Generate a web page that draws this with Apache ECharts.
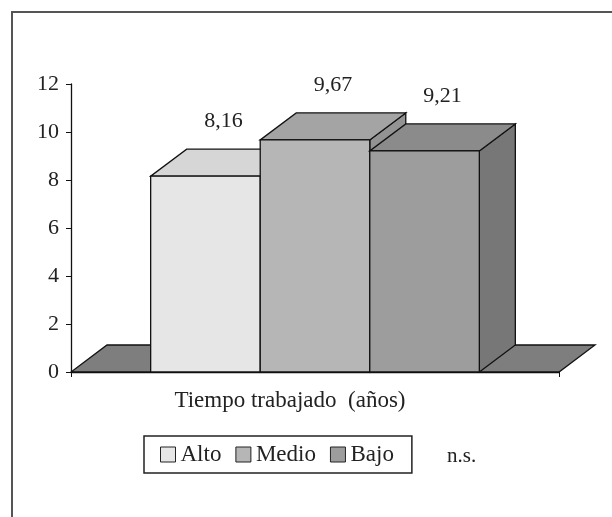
<!DOCTYPE html>
<html>
<head>
<meta charset="utf-8">
<script src="https://cdn.jsdelivr.net/npm/echarts@6/dist/echarts.min.js"></script>
<style>
html, body { margin: 0; padding: 0; background: #fff; }
#main { width: 612px; height: 517px; }
</style>
</head>
<body>
<div id="main"></div>
<script>
// datos
var categorias = ['Tiempo trabajado  (años)'];
var niveles = ['Alto', 'Medio', 'Bajo'];
var alto = [8.16];
var medio = [9.67];
var bajo = [9.21];
var ticksY = [0, 2, 4, 6, 8, 10, 12];

// frente, techo, lado
var caras = [
    ['#e6e6e6', '#d6d6d6', '#c4c4c4'],
    ['#b6b6b6', '#a4a4a4', '#939393'],
    ['#9d9d9d', '#8b8b8b', '#777777']
];
var PX = 36, PY = 27;   // profundidad 3D
var fuente = '"Liberation Serif", "DejaVu Serif", serif';

function coma(v) {
    return v.toFixed(2).replace('.', ',');
}

function caja(idx) {
    return function (params, api) {
        var base = api.coord([api.value(0), 0]);
        var cima = api.coord([api.value(0), api.value(1)]);
        var banda = api.size([1, 0])[0];
        var ancho = banda * 0.2245;
        var x0 = base[0] + (idx - 1.5) * ancho;
        var x1 = x0 + ancho;
        var yb = base[1], yt = cima[1];
        var c = caras[idx];
        var borde = { stroke: '#111', lineWidth: 1.3 };
        return {
            type: 'group',
            children: [
                { type: 'polygon', shape: { points: [[x1, yb], [x1 + PX, yb - PY], [x1 + PX, yt - PY], [x1, yt]] },
                  style: Object.assign({ fill: c[2] }, borde) },
                { type: 'polygon', shape: { points: [[x0, yt], [x1, yt], [x1 + PX, yt - PY], [x0 + PX, yt - PY]] },
                  style: Object.assign({ fill: c[1] }, borde) },
                { type: 'rect', shape: { x: x0, y: yt, width: ancho, height: yb - yt },
                  style: Object.assign({ fill: c[0] }, borde) },
                { type: 'text', style: { text: coma(api.value(1)), x: (x0 + x1) / 2 + PX / 2, y: yt - PY - 28,
                  align: 'center', verticalAlign: 'middle', font: '22px ' + fuente, fill: '#222' } }
            ]
        };
    };
}

function suelo(params, api) {
    var cs = params.coordSys;
    var y0 = api.coord([0, 0])[1];
    var xa = cs.x, xb = cs.x + cs.width;
    return {
        type: 'polygon',
        shape: { points: [[xa, y0], [xb, y0], [xb + PX, y0 - PY], [xa + PX, y0 - PY]] },
        style: { fill: '#7e7e7e', stroke: '#111', lineWidth: 1.3 }
    };
}

var valores = [alto, medio, bajo];
var series = [{
    type: 'custom',
    name: 'suelo',
    renderItem: suelo,
    data: [[0, 0]],
    silent: true,
    z: 1
}];
niveles.forEach(function (n, i) {
    series.push({
        type: 'custom',
        name: n,
        renderItem: caja(i),
        itemStyle: { color: caras[i][0] },
        data: valores[i].map(function (v, j) { return [j, v]; }),
        encode: { x: 0, y: 1 },
        z: 2 + i
    });
});

var myChart = echarts.init(document.getElementById('main'));
var option = {
    animation: false,
    backgroundColor: '#fff',
    grid: { left: 71, right: 53, top: 84, bottom: 145 },
    xAxis: {
        type: 'category',
        data: categorias,
        axisLine: { lineStyle: { color: '#111', width: 1.3 } },
        axisTick: { show: true, length: 5, lineStyle: { color: '#111' } },
        axisLabel: { fontFamily: fuente, fontSize: 23, color: '#222', margin: 17, padding: [0, 50, 0, 0] },
        splitLine: { show: false }
    },
    yAxis: {
        type: 'value',
        min: ticksY[0],
        max: ticksY[ticksY.length - 1],
        interval: 2,
        axisLine: { show: true, lineStyle: { color: '#111', width: 1.3 } },
        axisTick: { show: true, length: 5, lineStyle: { color: '#111' } },
        axisLabel: { fontFamily: fuente, fontSize: 22, color: '#222', margin: 12 },
        splitLine: { show: false }
    },
    legend: {
        data: niveles,
        left: 144,
        top: 436,
        padding: [7, 18, 7, 16],
        itemGap: 14,
        itemWidth: 15,
        itemHeight: 15,
        icon: 'rect',
        borderColor: '#222',
        borderWidth: 1.5,
        itemStyle: { borderColor: '#222', borderWidth: 1 },
        textStyle: { fontFamily: fuente, fontSize: 23, color: '#222' }
    },
    graphic: [
        { type: 'rect', shape: { x: 12, y: 12, width: 640, height: 560 },
          style: { fill: 'none', stroke: '#555', lineWidth: 2 }, z: 100 },
        { type: 'text', x: 447, y: 456, style: { text: 'n.s.', font: '21px ' + fuente, fill: '#222',
          verticalAlign: 'middle' } }
    ],
    series: series
};
myChart.setOption(option);
</script>
</body>
</html>
